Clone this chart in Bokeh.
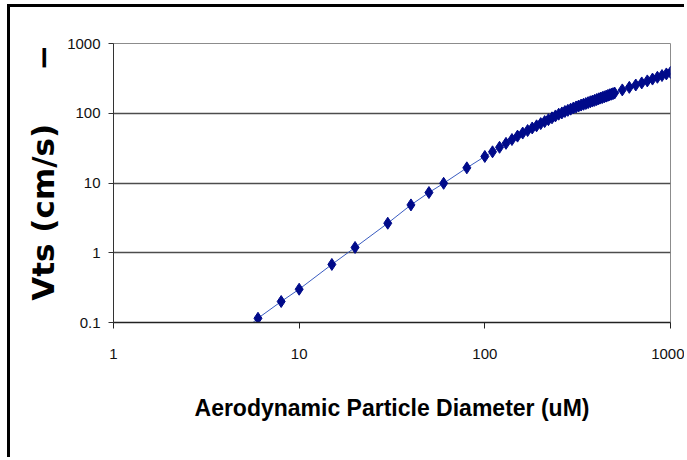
from bokeh.plotting import figure
from bokeh.models import FixedTicker, NumeralTickFormatter, LogAxis
from bokeh.embed import file_html
from bokeh.resources import INLINE

# ---- data ----
diameter_um = [5, 6, 8, 10, 15, 20, 30, 40, 50, 60, 80,
               100, 110, 120, 130, 140, 150, 160, 170, 180, 190,
               200, 210, 220, 230, 240, 250, 260, 270, 280, 290,
               300, 310, 320, 330, 340, 350, 360, 370, 380, 390,
               400, 410, 420, 430, 440, 450, 460, 470, 480, 490, 500,
               550, 600, 650, 700, 750, 800, 850, 900, 950, 1000]
vts_cm_s = [0.076, 0.115, 0.2, 0.30, 0.68, 1.19, 2.65, 4.85, 7.3, 9.9, 16.5,
            24, 28, 32.5, 37, 42, 47, 52, 56.5, 61.5, 66,
            71, 76, 81, 86, 91.5, 97, 101, 106, 110, 114.5,
            119, 123, 127, 131, 134.5, 138, 142, 146, 149.5, 153,
            157, 161, 165, 168.5, 172, 176, 180, 184, 187.5, 191, 195,
            216, 235, 254, 272, 291, 309, 328, 347, 366, 385]
x_ticks = [1, 10, 100, 1000]
y_ticks = [0.1, 1, 10, 100, 1000]
y_grid_ticks = [1, 10, 100]
x_title = "Aerodynamic Particle Diameter (uM)"
y_title = "Vts (cm/s)"
stray_mark = "\u2212"
y_title_pos = 3.8      # vertical centre of the y title, in data units
stray_mark_pos = 631   # vertical centre of the stray mark, in data units

p = figure(width=677, height=453, x_axis_type="log", y_axis_type="log",
           x_range=(1, 1000), y_range=(0.1, 1000),
           output_backend="svg", toolbar_location=None,
           min_border_left=103, min_border_right=17,
           min_border_top=36, min_border_bottom=138)
p.styles = {"margin-left": "7px", "margin-top": "4px",
            "border-left": "3px solid black", "border-top": "3px solid black"}

p.background_fill_color = "white"
p.border_fill_color = "white"
p.outline_line_color = "#8c8c8c"
p.outline_line_width = 1

p.xgrid.visible = False
p.ygrid.ticker = FixedTicker(ticks=y_grid_ticks, minor_ticks=[])
p.ygrid.grid_line_color = "#4d4d4d"
p.ygrid.grid_line_width = 1.5

TICK_FONT = "Liberation Sans"

# x axis
xa = p.xaxis[0]
xa.ticker = FixedTicker(ticks=x_ticks, minor_ticks=[])
xa.formatter = NumeralTickFormatter(format="0.[0]")
xa.major_tick_in = 0
xa.major_tick_out = 6
xa.minor_tick_in = 0
xa.minor_tick_out = 0
xa.axis_line_color = "#222222"
xa.axis_line_width = 1.5
xa.major_tick_line_color = "#222222"
xa.major_label_standoff = 20
xa.major_label_text_font = TICK_FONT
xa.major_label_text_font_size = "15px"
xa.major_label_text_color = "#111111"
xa.axis_label = x_title
xa.axis_label_text_font = "Liberation Sans"
xa.axis_label_text_font_style = "bold"
xa.axis_label_text_font_size = "23px"
xa.axis_label_text_color = "black"
xa.axis_label_standoff = 33

# y axis
ya = p.yaxis[0]
ya.ticker = FixedTicker(ticks=y_ticks, minor_ticks=[])
ya.formatter = NumeralTickFormatter(format="0.[0]")
ya.major_tick_in = 0
ya.major_tick_out = 5
ya.minor_tick_in = 0
ya.minor_tick_out = 0
ya.axis_line_color = "#333333"
ya.axis_line_width = 1
ya.major_tick_line_color = "#333333"
ya.major_label_standoff = 8
ya.major_label_text_font = TICK_FONT
ya.major_label_text_font_size = "15px"
ya.major_label_text_color = "#111111"

# y title, placed lower than the frame centre as in the reference,
# drawn as rotated labels of an extra (line-less) left axis
title_axis = LogAxis(
    ticker=FixedTicker(ticks=[y_title_pos, stray_mark_pos], minor_ticks=[]),
    major_label_overrides={y_title_pos: y_title, stray_mark_pos: stray_mark},
    major_label_orientation="vertical",
    axis_line_color=None, major_tick_line_color=None, minor_tick_line_color=None,
    major_tick_in=0, major_tick_out=0, minor_tick_in=0, minor_tick_out=0,
    major_label_standoff=3,
    major_label_text_font="DejaVu Sans", major_label_text_font_style="bold",
    major_label_text_font_size="31px", major_label_text_color="black")
p.add_layout(title_axis, "left")

# data
p.line(diameter_um, vts_cm_s, line_color="#3a5cc0", line_width=1)
p.scatter(diameter_um, vts_cm_s, marker="diamond", size=12,
          fill_color="#000a8a", line_color="#000a8a", line_width=1)

open("out.html", "w").write(file_html(p, INLINE))
